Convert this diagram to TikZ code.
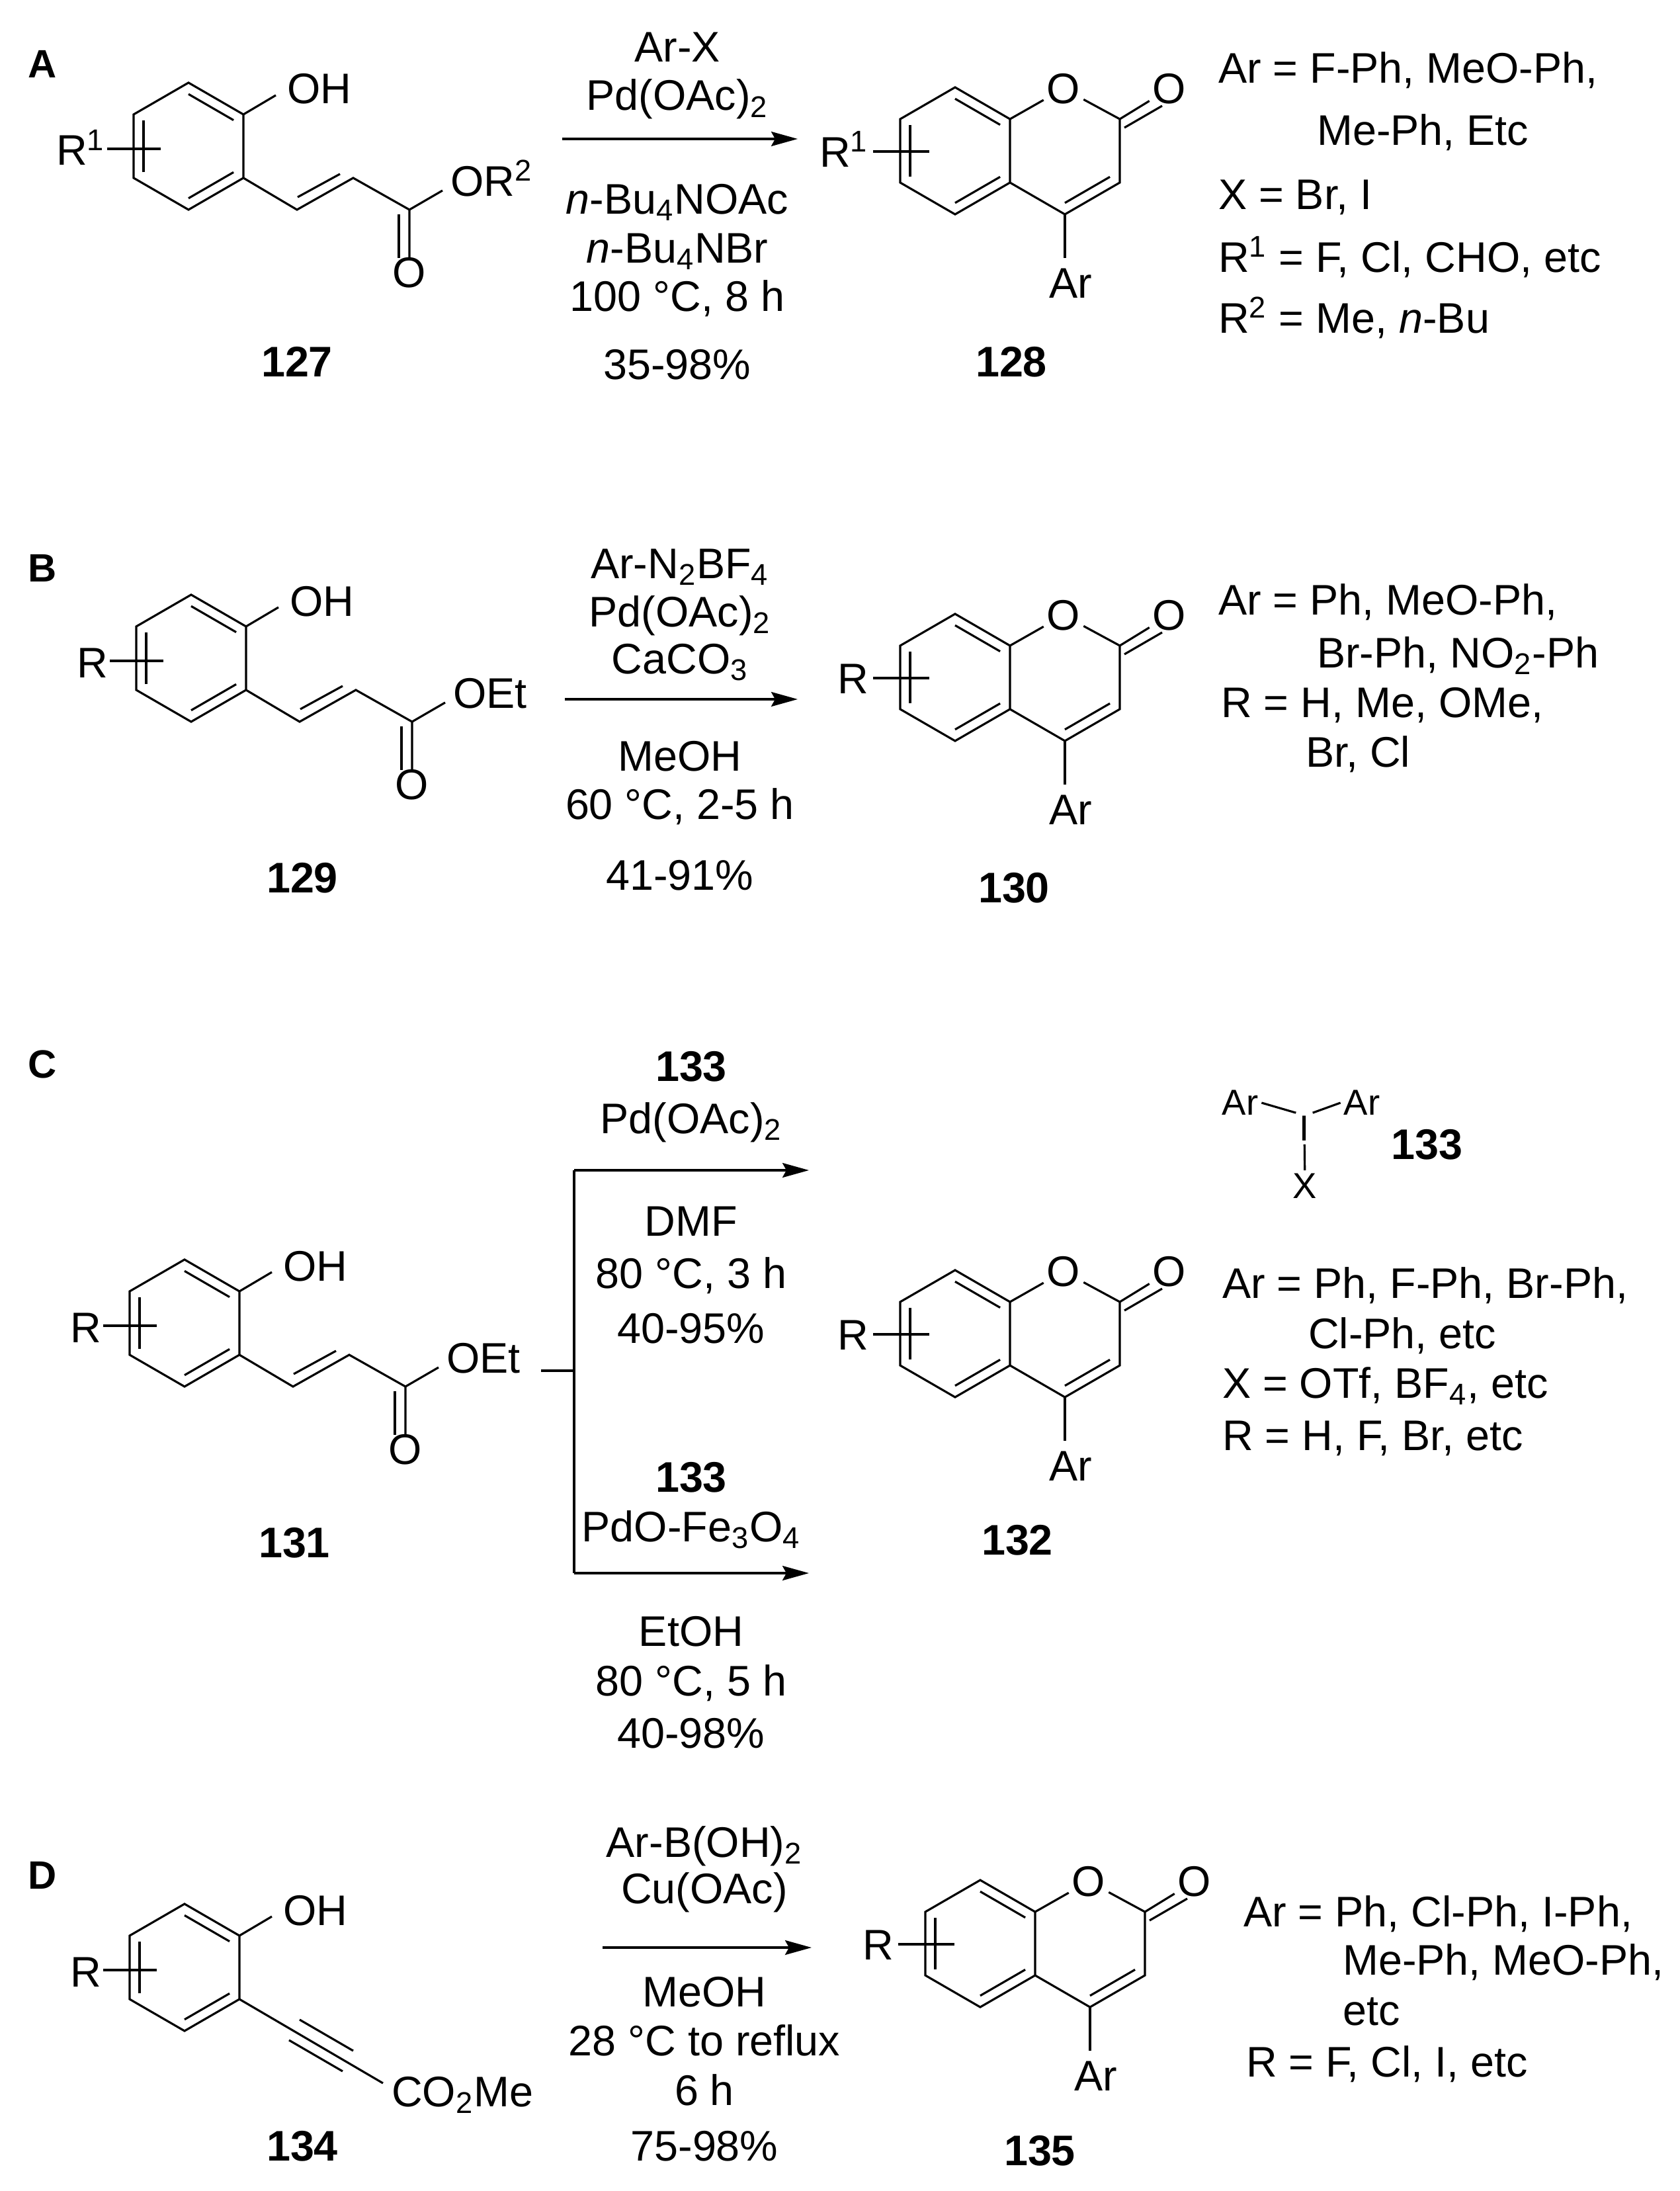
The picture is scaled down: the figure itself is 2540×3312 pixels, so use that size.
\documentclass[tikz,border=0pt]{standalone}
\usepackage{fontspec}
\setmainfont{Liberation Sans}
\usetikzlibrary{calc,arrows.meta}
\newcommand\chemfont{\fontsize{18.4}{22}\selectfont}
\newcommand\smallchem{\fontsize{15.5}{18}\selectfont}
% inner line of a ring double bond
\newcommand\inb[3]{\draw ($(#3)!0.82!(#1)$) -- ($(#3)!0.82!(#2)$);}
% benzene ring, flat sides left and right
\newcommand\benz[2]{%
  \coordinate (t) at (#1,#2-96); \coordinate (ur) at (#1+83,#2-48);
  \coordinate (lr) at (#1+83,#2+48); \coordinate (bt) at (#1,#2+96);
  \coordinate (ll) at (#1-83,#2+48); \coordinate (ul) at (#1-83,#2-48);
  \coordinate (rc) at (#1,#2);
  \draw (t) -- (ur) -- (lr) -- (bt) -- (ll) -- (ul) -- cycle;
  \inb{t}{ur}{rc}\inb{lr}{bt}{rc}\inb{ll}{ul}{rc}}
% phenol with substituent
\newcommand\phenol[1]{%
  \benz{285}{221}
  \coordinate (ohb) at (417,144);
  \draw (ur) -- (ohb);
  \node[anchor=base west] (oh) at (429,157) {OH};
  \coordinate (rs) at (162,225); \coordinate (re) at (243,225);
  \draw (rs) -- (re);
  \node[anchor=base east] (rl) at (164,250) {#1};}
% acrylate chain
\newcommand\ester[1]{%
  \coordinate (c1) at (449,317); \coordinate (c2) at (534,269);
  \coordinate (c3) at (619,317); \coordinate (co) at (619,390);
  \draw (lr) -- (c1) -- (c2) -- (c3) -- (co);
  \draw (450,298) -- (514,263);
  \draw (603,324) -- (603,390);
  \draw (c3) -- (669,288);
  \node[anchor=base west] (or) at (676,296) {#1};
  \node[anchor=base] (ko) at (619,434) {O};}
% 4-aryl coumarin
\newcommand\coum[1]{%
  \benz{1444}{228}
  \node (o1) at (1608,134) {O};
  \node (o2) at (1768,134) {O};
  \coordinate (c2) at (1693,180); \coordinate (c3) at (1693,276);
  \coordinate (c4) at (1610,324); \coordinate (pc) at (1610,228);
  \draw (ur) -- (o1) -- (c2) -- (c3) -- (c4) -- (lr);
  \draw (c2) -- (o2);
  \draw (1700,193) -- (1757,160);
  \inb{c3}{c4}{pc}
  \coordinate (ab) at (1610,390);
  \draw (c4) -- (ab);
  \node[anchor=base] (ar) at (1619,450) {Ar};
  \coordinate (rs) at (1320,229); \coordinate (re) at (1405,229);
  \draw (rs) -- (re);
  \node[anchor=base east] (rl) at (1318,252) {#1};}

\begin{document}
\begin{tikzpicture}[x=0.01cm,y=-0.01cm,line width=0.9pt,
  every node/.style={font=\chemfont,inner sep=1pt},
  cpd/.style={anchor=base,font=\chemfont\bfseries},
  tag/.style={font=\fontsize{17}{20}\selectfont\bfseries},
  cond/.style={anchor=base},
  list/.style={anchor=base west},
  rxn/.style={-{Stealth[length=0.4cm,width=0.22cm,inset=0.06cm]}}]
\useasboundingbox (0,0) rectangle (2540,3312);

% A
\node[tag] (la) at (64,97) {A};
\begin{scope}\phenol{R\textsuperscript{1}}\ester{OR\textsuperscript{2}}\end{scope}
\begin{scope}\coum{R\textsuperscript{1}}\end{scope}
\coordinate (a1) at (850,210); \coordinate (a2) at (1206,210);
\draw[rxn] (a1) -- (a2);
\node[cond] at (1024,94) {Ar-X};
\node[cond] at (1024,167) {Pd(OAc)\textsubscript{2}};
\node[cond] at (1024,323) {\textit{n}-Bu\textsubscript{4}NOAc};
\node[cond] at (1024,397) {\textit{n}-Bu\textsubscript{4}NBr};
\node[cond] at (1024,470) {100 °C, 8 h};
\node[cond] at (1024,573) {35-98\%};
\node[cpd] at (449,569) {127};
\node[cpd] at (1529,569) {128};
\node[list] at (1837,126) {Ar = F-Ph, MeO-Ph,};
\node[list] at (1986,219) {Me-Ph, Etc};
\node[list] at (1837,316) {X = Br, I};
\node[list] at (1837,411) {R\textsuperscript{1} = F, Cl, CHO, etc};
\node[list] at (1837,503) {R\textsuperscript{2} = Me, \textit{n}-Bu};

% B
\node[tag] (lb) at (64,859) {B};
\begin{scope}[shift={(4,774)}]\phenol{R}\ester{OEt}\end{scope}
\begin{scope}[shift={(0,796)}]\coum{R}\end{scope}
\coordinate (b1) at (854,1057); \coordinate (b2) at (1206,1057);
\draw[rxn] (b1) -- (b2);
\node[cond] at (1028,874) {Ar-N\textsubscript{2}BF\textsubscript{4}};
\node[cond] at (1028,947) {Pd(OAc)\textsubscript{2}};
\node[cond] at (1028,1018) {CaCO\textsubscript{3}};
\node[cond] at (1028,1165) {MeOH};
\node[cond] at (1028,1238) {60 °C, 2-5 h};
\node[cond] at (1028,1345) {41-91\%};
\node[cpd] at (457,1349) {129};
\node[cpd] at (1533,1364) {130};
\node[list] at (1837,929) {Ar = Ph, MeO-Ph,};
\node[list] at (1986,1009) {Br-Ph, NO\textsubscript{2}-Ph};
\node[list] at (1841,1084) {R = H, Me, OMe,};
\node[list] at (1969,1159) {Br, Cl};

% C
\node[tag] (lc) at (64,1609) {C};
\begin{scope}[shift={(-6,1779)}]\phenol{R}\ester{OEt}\end{scope}
\begin{scope}[shift={(0,1788)}]\coum{R}\end{scope}
\coordinate (s0) at (818,2072); \coordinate (s1) at (868,2072);
\coordinate (u1) at (868,1769); \coordinate (u2) at (1223,1769);
\coordinate (d1) at (868,2378); \coordinate (d2) at (1223,2378);
\draw (s0) -- (s1); \draw (u1) -- (d1);
\draw[rxn] (u1) -- (u2);
\draw[rxn] (d1) -- (d2);
\node[cpd] at (1045,1634) {133};
\node[cond] at (1045,1713) {Pd(OAc)\textsubscript{2}};
\node[cond] at (1045,1868) {DMF};
\node[cond] at (1045,1947) {80 °C, 3 h};
\node[cond] at (1045,2030) {40-95\%};
\node[cpd] at (1045,2255) {133};
\node[cond] at (1045,2330) {PdO-Fe\textsubscript{3}O\textsubscript{4}};
\node[cond] at (1045,2488) {EtOH};
\node[cond] at (1045,2563) {80 °C, 5 h};
\node[cond] at (1045,2642) {40-98\%};
\node[cpd] at (445,2354) {131};
\node[cpd] at (1538,2350) {132};
\node[font=\smallchem] (arl) at (1875,1667) {Ar};
\node[font=\smallchem] (arr) at (2059,1667) {Ar};
\node[font=\smallchem] (io) at (1972,1706) {I};
\node[font=\smallchem] (xo) at (1973,1793) {X};
\draw (arl.east) -- (io.north west);
\draw (io.north east) -- (arr.west);
\draw (io) -- (xo);
\node[cpd,anchor=center] at (2157,1730) {133};
\node[list] at (1843,1962) {Ar = Ph, F-Ph, Br-Ph,};
\node[list] at (1973,2038) {Cl-Ph, etc};
\node[list] at (1843,2113) {X = OTf, BF\textsubscript{4}, etc};
\node[list] at (1843,2192) {R = H, F, Br, etc};

% D
\node[tag] (ld) at (64,2835) {D};
\begin{scope}[shift={(-6,2753)}]
  \phenol{R}
  \coordinate (ye) at (585,396);
  \draw (lr) -- (ye);
  \draw (459,300) -- (540,347);
  \draw (443,331) -- (524,378);
  \node[anchor=base west] (cm) at (593,431) {CO\textsubscript{2}Me};
\end{scope}
\begin{scope}[shift={(38,2710)}]\coum{R}\end{scope}
\coordinate (e1) at (911,2944); \coordinate (e2) at (1227,2944);
\draw[rxn] (e1) -- (e2);
\node[cond] at (1065,2807) {Ar-B(OH)\textsubscript{2}};
\node[cond] at (1065,2877) {Cu(OAc)};
\node[cond] at (1065,3033) {MeOH};
\node[cond] at (1065,3107) {28 °C to reflux};
\node[cond] at (1065,3182) {6 h};
\node[cond] at (1065,3266) {75-98\%};
\node[cpd] at (457,3266) {134};
\node[cpd] at (1572,3273) {135};
\node[list] at (1875,2912) {Ar = Ph, Cl-Ph, I-Ph,};
\node[list] at (2025,2985) {Me-Ph, MeO-Ph,};
\node[list] at (2025,3061) {etc};
\node[list] at (1879,3139) {R = F, Cl, I, etc};
\end{tikzpicture}
\end{document}
